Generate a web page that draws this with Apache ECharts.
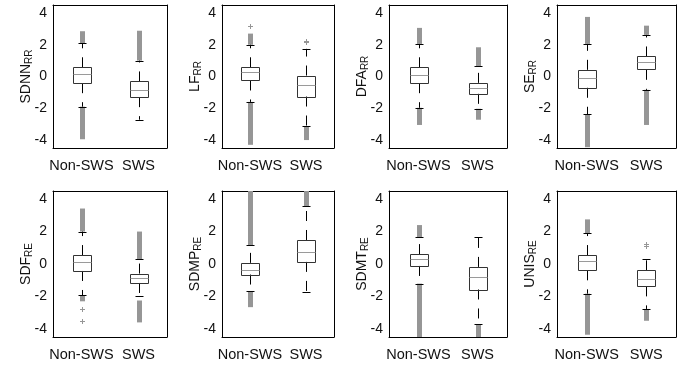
<!DOCTYPE html>
<html>
<head>
<meta charset="utf-8">
<script src="https://cdn.jsdelivr.net/npm/echarts@6/dist/echarts.min.js"></script>
<style>
  html, body { margin: 0; padding: 0; background: #fff; }
  #chart { width: 686px; height: 367px; }
</style>
</head>
<body>
<div id="chart"></div>
<script>
const categories = ['Non-SWS', 'SWS'];
const yTicks = [-4, -2, 0, 2, 4];

// axis name, subscript
const panelNames = [
  ['SDNN', 'RR'], ['LF', 'RR'], ['DFA', 'RR'], ['SE', 'RR'],
  ['SDF', 'RE'], ['SDMP', 'RE'], ['SDMT', 'RE'], ['UNIS', 'RE']
];

// [lower whisker, q1, median, q3, upper whisker]
const boxNonSWS = [
  [-1.9, -0.42, 0.13, 0.58, 2.1],
  [-1.6, -0.25, 0.27, 0.58, 2.0],
  [-1.97, -0.42, 0.1, 0.58, 2.05],
  [-2.39, -0.71, -0.08, 0.42, 2.05],
  [-1.94, -0.43, 0.13, 0.55, 2.0],
  [-1.69, -0.65, -0.34, 0.07, 1.17],
  [-1.21, -0.12, 0.3, 0.61, 1.65],
  [-1.83, -0.39, 0.17, 0.55, 1.9]
];
const boxSWS = [
  [-2.72, -1.3, -0.84, -0.31, 1.0],
  [-3.14, -1.26, -0.56, 0.06, 1.74],
  [-2.03, -1.09, -0.71, -0.4, 0.63],
  [-0.84, 0.42, 0.9, 1.26, 2.62],
  [-2.0, -1.17, -0.86, -0.59, 0.3],
  [-1.75, 0.13, 0.75, 1.48, 3.55],
  [-3.7, -1.57, -0.8, -0.18, 1.65],
  [-2.77, -1.38, -0.9, -0.39, 0.3]
];

// dense runs of outliers: [category, from, to]
const outlierRuns = [
  [[0, 2.1, 2.85], [0, -1.9, -3.95], [1, 1.0, 2.88]],
  [[0, 2.0, 2.7], [0, -1.6, -4.3], [1, -3.14, -4.0]],
  [[0, 2.05, 3.06], [0, -1.97, -3.05], [1, 0.63, 1.84], [1, -2.03, -2.72]],
  [[0, 2.05, 3.75], [0, -2.39, -4.45], [1, 2.62, 3.2], [1, -0.84, -3.05]],
  [[0, 2.0, 3.42], [0, -1.94, -2.3], [1, 0.3, 2.0], [1, -2.25, -3.6]],
  [[0, 1.17, 4.5], [0, -1.69, -2.66], [1, 3.55, 4.5]],
  [[0, 1.65, 2.4], [0, -1.21, -4.5], [1, -3.7, -4.5]],
  [[0, 1.9, 2.75], [0, -1.83, -4.36], [1, -2.77, -3.5]]
];

// single outliers: [category, value]
const outlierPoints = [
  [],
  [[0, 3.2], [1, 2.15], [1, 2.22]],
  [],
  [],
  [[0, -2.75], [0, -3.5]],
  [],
  [],
  [[1, 1.12], [1, 1.25]]
];

const lefts = [53, 222, 389, 557];
const widths = [114, 112, 118, 119];
const tops = [5, 191];
const heights = [143, 146];

const font = "'Liberation Sans', Arial, sans-serif";
const grey = '#969696';

const chart = echarts.init(document.getElementById('chart'), null, { renderer: 'canvas' });

const grids = [], xAxes = [], yAxes = [], series = [];

function crisp(v) { return Math.round(v) + 0.5; }

function renderBox(params, api) {
  const cat = api.value(0);
  const lo = api.coord([cat, api.value(1)]);
  const q1 = api.coord([cat, api.value(2)]);
  const md = api.coord([cat, api.value(3)]);
  const q3 = api.coord([cat, api.value(4)]);
  const hi = api.coord([cat, api.value(5)]);
  const cx = crisp(lo[0]);
  const bw = 18, cap = 4;
  const line = (x1, y1, x2, y2, style) => ({
    type: 'line', shape: { x1, y1, x2, y2 }, style: Object.assign({ stroke: '#000', lineWidth: 1 }, style)
  });
  return {
    type: 'group',
    children: [
      line(cx, q3[1], cx, hi[1], { lineDash: [10, 9] }),
      line(cx, q1[1], cx, lo[1], { lineDash: [10, 9] }),
      line(cx - cap, crisp(hi[1]), cx + cap, crisp(hi[1])),
      line(cx - cap, crisp(lo[1]), cx + cap, crisp(lo[1])),
      {
        type: 'rect',
        shape: { x: cx - bw / 2, y: crisp(q3[1]), width: bw, height: Math.round(q1[1] - q3[1]) },
        style: { fill: 'none', stroke: '#333', lineWidth: 1 }
      },
      line(cx - bw / 2, crisp(md[1]), cx + bw / 2, crisp(md[1]), { stroke: '#9a9a9a' })
    ]
  };
}

function renderRun(params, api) {
  const cat = api.value(0);
  const a = api.coord([cat, api.value(1)]);
  const b = api.coord([cat, api.value(2)]);
  const w = 5;
  return {
    type: 'rect',
    shape: { x: Math.round(a[0]) + 0.5 - w / 2, y: Math.min(a[1], b[1]), width: w, height: Math.abs(a[1] - b[1]) },
    style: { fill: grey }
  };
}

function renderPoint(params, api) {
  const p = api.coord([api.value(0), api.value(1)]);
  const x = Math.round(p[0]) + 0.5, y = Math.round(p[1]) + 0.5, s = 2.5;
  return {
    type: 'group',
    children: [
      { type: 'line', shape: { x1: x - s, y1: y, x2: x + s, y2: y }, style: { stroke: grey, lineWidth: 1 } },
      { type: 'line', shape: { x1: x, y1: y - s, x2: x, y2: y + s }, style: { stroke: grey, lineWidth: 1 } }
    ]
  };
}

for (let p = 0; p < 8; p++) {
  const row = Math.floor(p / 4), col = p % 4;
  grids.push({ left: lefts[col], top: tops[row], width: widths[col], height: heights[row] });

  const tick = { inside: true, length: 4, alignWithLabel: true, lineStyle: { color: '#000' } };
  const axLine = { show: true, onZero: false, lineStyle: { color: '#000', width: 1 } };

  xAxes.push({
    gridIndex: p, type: 'category', data: categories, position: 'bottom',
    axisLine: axLine, axisTick: tick,
    axisLabel: { interval: 0, margin: 10, fontSize: 14.5, color: '#111', fontFamily: font }
  });
  xAxes.push({
    gridIndex: p, type: 'category', data: categories, position: 'top',
    axisLine: axLine, axisTick: tick, axisLabel: { show: false }
  });

  const yTick = { inside: true, length: 4, customValues: yTicks, lineStyle: { color: '#000' } };
  yAxes.push({
    gridIndex: p, type: 'value', min: -4.5, max: 4.5, position: 'left',
    axisLine: axLine, axisTick: yTick, splitLine: { show: false },
    axisLabel: { customValues: yTicks, margin: 6, fontSize: 14, color: '#111', fontFamily: font },
    name: '{a|' + panelNames[p][0] + '}{b|' + panelNames[p][1] + '}',
    nameLocation: 'middle', nameRotate: 90, nameGap: 19, nameMoveOverlap: false,
    nameTextStyle: {
      align: 'center',
      verticalAlign: 'bottom',
      rich: {
        a: { fontSize: 14, fontFamily: font, color: '#111', lineHeight: 16 },
        b: { fontSize: 10, fontFamily: font, color: '#111', lineHeight: 12, padding: [6, 0, 0, 0] }
      }
    }
  });
  yAxes.push({
    gridIndex: p, type: 'value', min: -4.5, max: 4.5, position: 'right',
    axisLine: axLine, axisTick: yTick, splitLine: { show: false }, axisLabel: { show: false }
  });

  series.push({
    type: 'custom', xAxisIndex: 2 * p, yAxisIndex: 2 * p, clip: true, z: 2,
    renderItem: renderRun, data: outlierRuns[p]
  });
  series.push({
    type: 'custom', xAxisIndex: 2 * p, yAxisIndex: 2 * p, clip: true, z: 2,
    renderItem: renderPoint, data: outlierPoints[p]
  });
  series.push({
    type: 'custom', xAxisIndex: 2 * p, yAxisIndex: 2 * p, clip: true, z: 3,
    renderItem: renderBox,
    data: [[0].concat(boxNonSWS[p]), [1].concat(boxSWS[p])]
  });
}

chart.setOption({
  animation: false,
  grid: grids,
  xAxis: xAxes,
  yAxis: yAxes,
  series: series
});
</script>
</body>
</html>
